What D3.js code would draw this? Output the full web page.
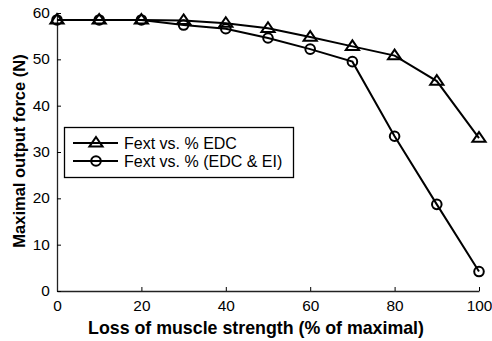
<!DOCTYPE html>
<html>
<head>
<meta charset="utf-8">
<script src="https://cdn.jsdelivr.net/npm/d3@7"></script>
<style>
  body { margin: 0; background: #fff; }
  text { font-family: "Liberation Sans", Arial, sans-serif; fill: #000; }
</style>
</head>
<body>
<div id="chart"></div>
<script>
// loss of muscle strength (% of maximal)
const loss = [0, 10, 20, 30, 40, 50, 60, 70, 80, 90, 100];
// Fext vs. % EDC
const fextEdc = [58.5, 58.5, 58.5, 58.4, 57.8, 56.7, 54.8, 52.8, 50.8, 45.3, 33.0];
// Fext vs. % (EDC & EI)
const fextEdcEi = [58.5, 58.5, 58.5, 57.4, 56.6, 54.6, 52.2, 49.5, 33.4, 18.7, 4.2];
const xTicks = [0, 20, 40, 60, 80, 100];
const yTicks = [0, 10, 20, 30, 40, 50, 60];

const width = 492, height = 341;
const margin = {left: 57, right: 13, top: 13, bottom: 50};

const svg = d3.select('#chart').append('svg')
    .attr('width', width)
    .attr('height', height);

const x = d3.scaleLinear().domain([0, 100]).range([margin.left, width - margin.right]);
const y = d3.scaleLinear().domain([0, 60]).range([height - margin.bottom, margin.top]);

// axes, ticks pointing inward
const xAxis = svg.append('g')
    .attr('transform', `translate(0,${y(0)})`)
    .call(d3.axisBottom(x).tickValues(xTicks).tickSizeInner(-4).tickSizeOuter(0).tickPadding(8));
const yAxis = svg.append('g')
    .attr('transform', `translate(${x(0)},0)`)
    .call(d3.axisLeft(y).tickValues(yTicks).tickSizeInner(-4).tickSizeOuter(0).tickPadding(6));
[xAxis, yAxis].forEach(g => {
    g.selectAll('text')
        .style('font-size', '14px')
        .style('font-family', '"Liberation Sans", Arial, sans-serif');
    g.select('.domain').attr('stroke', '#222').attr('stroke-width', 1.3);
    g.selectAll('.tick line').attr('stroke', '#000');
});
// labels in the original are a bit wider than tall
xAxis.selectAll('text').attr('dy', '0.85em').attr('transform', 'scale(1.1,1)');
yAxis.selectAll('text').attr('x', -6.5).attr('transform', 'scale(1.1,1)');

// axis titles
svg.append('text')
    .attr('x', 256)
    .attr('y', 334)
    .attr('text-anchor', 'middle')
    .style('font-size', '17.8px')
    .style('font-weight', 'bold')
    .text('Loss of muscle strength (% of maximal)');
svg.append('text')
    .attr('transform', `translate(25,151) rotate(-90)`)
    .attr('text-anchor', 'middle')
    .style('font-size', '16.5px')
    .style('font-weight', 'bold')
    .text('Maximal output force (N)');

const line = d3.line().x((d, i) => x(loss[i])).y(d => y(d));

function triangle(g, cx, cy) {
    const s = 6;
    g.append('path')
        .attr('d', `M${cx},${cy - s}L${cx + s * 1.1},${cy + s * 0.6}L${cx - s * 1.1},${cy + s * 0.6}Z`)
        .attr('fill', 'none').attr('stroke', '#000').attr('stroke-width', 2);
}
function circle(g, cx, cy) {
    g.append('circle').attr('cx', cx).attr('cy', cy).attr('r', 4.8)
        .attr('fill', 'none').attr('stroke', '#000').attr('stroke-width', 2);
}

const series = [
    {name: 'Fext vs. % EDC', values: fextEdc, marker: triangle},
    {name: 'Fext vs. % (EDC & EI)', values: fextEdcEi, marker: circle}
];

series.forEach(s => {
    const g = svg.append('g');
    g.append('path')
        .attr('d', line(s.values))
        .attr('fill', 'none')
        .attr('stroke', '#000')
        .attr('stroke-width', 2);
    s.values.forEach((v, i) => s.marker(g, x(loss[i]), y(v)));
});

// legend
const lg = svg.append('g');
lg.append('rect')
    .attr('x', 64.5).attr('y', 127.5)
    .attr('width', 229).attr('height', 50)
    .attr('fill', '#fff').attr('stroke', '#000').attr('stroke-width', 1.3);
series.forEach((s, i) => {
    const ly = 143 + i * 18;
    lg.append('line').attr('x1', 73).attr('x2', 118).attr('y1', ly).attr('y2', ly)
        .attr('stroke', '#000').attr('stroke-width', 2);
    s.marker(lg, 96, ly);
    lg.append('text').attr('x', 124).attr('y', ly + 6)
        .style('font-size', '16px')
        .text(s.name);
});
</script>
</body>
</html>
